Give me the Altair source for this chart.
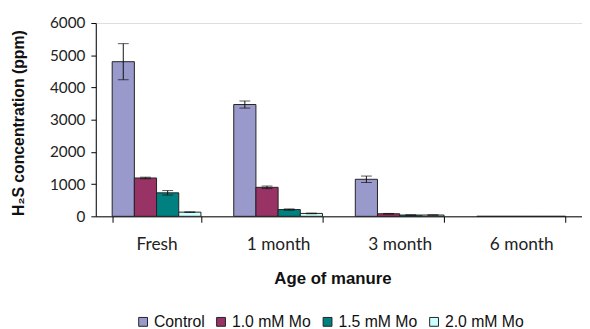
import altair as alt
import pandas as pd

ages = ["Fresh", "1 month", "3 month", "6 month"]
treatments = ["Control", "1.0 mM Mo", "1.5 mM Mo", "2.0 mM Mo"]
colors = ["#9999CC", "#993366", "#008080", "#CCFFFF"]

control = [4800, 3470, 1150, 0]
mo10 = [1190, 900, 80, 0]
mo15 = [730, 210, 40, 0]
mo20 = [130, 90, 40, 0]

control_err = [560, 110, 100, 0]
mo10_err = [25, 40, 10, 0]
mo15_err = [70, 20, 5, 0]
mo20_err = [10, 10, 5, 0]

rows = []
for t, vals, errs in [
    ("Control", control, control_err),
    ("1.0 mM Mo", mo10, mo10_err),
    ("1.5 mM Mo", mo15, mo15_err),
    ("2.0 mM Mo", mo20, mo20_err),
]:
    for a, v, e in zip(ages, vals, errs):
        rows.append({"age": a, "treatment": t, "value": v, "lo": v - e, "hi": v + e, "err": e})
df = pd.DataFrame(rows)

xscale = alt.Scale(paddingInner=0.27, paddingOuter=0.135)
xaxis = alt.Axis(
    title="Age of manure",
    labelAngle=0,
    tickBand="extent",
    tickSize=6,
    labelPadding=14,
    labelFont="Lato",
    labelFontSize=17.5,
    labelColor="#222222",
    titleFont="Liberation Sans",
    titleFontWeight="bold",
    titleFontSize=17,
    titleColor="#111111",
    titleX=240,
    titleY=63,
    titleBaseline="middle",
    domainColor="#000000",
    tickColor="#000000",
)
yscale = alt.Scale(domain=[0, 6000])
yaxis = alt.Axis(
    title="H₂S concentration (ppm)",
    values=[0, 1000, 2000, 3000, 4000, 5000, 6000],
    format="d",
    labelOverlap=False,
    grid=False,
    tickSize=5,
    labelPadding=6,
    labelFont="Lato",
    labelFontSize=15.5,
    labelColor="#222222",
    titleFont="Liberation Sans",
    titleFontWeight="bold",
    titleFontSize=16,
    titleColor="#111111",
    titleX=-78,
    titleY=101,
    titleAngle=-90,
    titleAlign="center",
    titleBaseline="middle",
    domainColor="#000000",
    tickColor="#000000",
)

xenc = alt.X("age:N", sort=ages, scale=xscale, axis=xaxis)
xoff = alt.XOffset("treatment:N", sort=treatments)

bars = alt.Chart(df).mark_bar(stroke="#222222", strokeWidth=1).encode(
    x=xenc,
    xOffset=xoff,
    y=alt.Y("value:Q", scale=yscale, axis=yaxis),
    color=alt.Color(
        "treatment:N",
        sort=treatments,
        scale=alt.Scale(domain=treatments, range=colors),
        legend=alt.Legend(
            title=None,
            orient="none",
            direction="horizontal",
            legendX=40,
            legendY=295,
            symbolType="square",
            symbolSize=80,
            symbolStrokeColor="#222222",
            symbolStrokeWidth=1,
            labelFont="Liberation Sans",
            labelFontSize=16,
            labelColor="#111111",
            columnPadding=8,
            labelOffset=3,
        ),
    ),
)

errdf = df[df["err"] > 0]
rules = alt.Chart(errdf).mark_rule(color="#111111", strokeWidth=1).encode(
    x=xenc,
    xOffset=xoff,
    y=alt.Y("lo:Q", scale=yscale, axis=yaxis),
    y2="hi:Q",
)
caps_hi = alt.Chart(errdf).mark_tick(color="#111111", thickness=1, size=11, orient="horizontal").encode(
    x=xenc,
    xOffset=xoff,
    y=alt.Y("hi:Q", scale=yscale, axis=yaxis),
)
caps_lo = alt.Chart(errdf).mark_tick(color="#111111", thickness=1, size=11, orient="horizontal").encode(
    x=xenc,
    xOffset=xoff,
    y=alt.Y("lo:Q", scale=yscale, axis=yaxis),
)

chart = (
    alt.layer(bars, rules, caps_hi, caps_lo)
    .properties(
        width=493,
        height=196,
        autosize=alt.AutoSizeParams(type="none"),
        padding={"left": 89, "top": 13, "right": 0, "bottom": 112},
    )
    .configure_view(stroke=None)
    .configure(background="white")
)

chart.save("out.html", embed_options={"renderer": "svg", "actions": False})
